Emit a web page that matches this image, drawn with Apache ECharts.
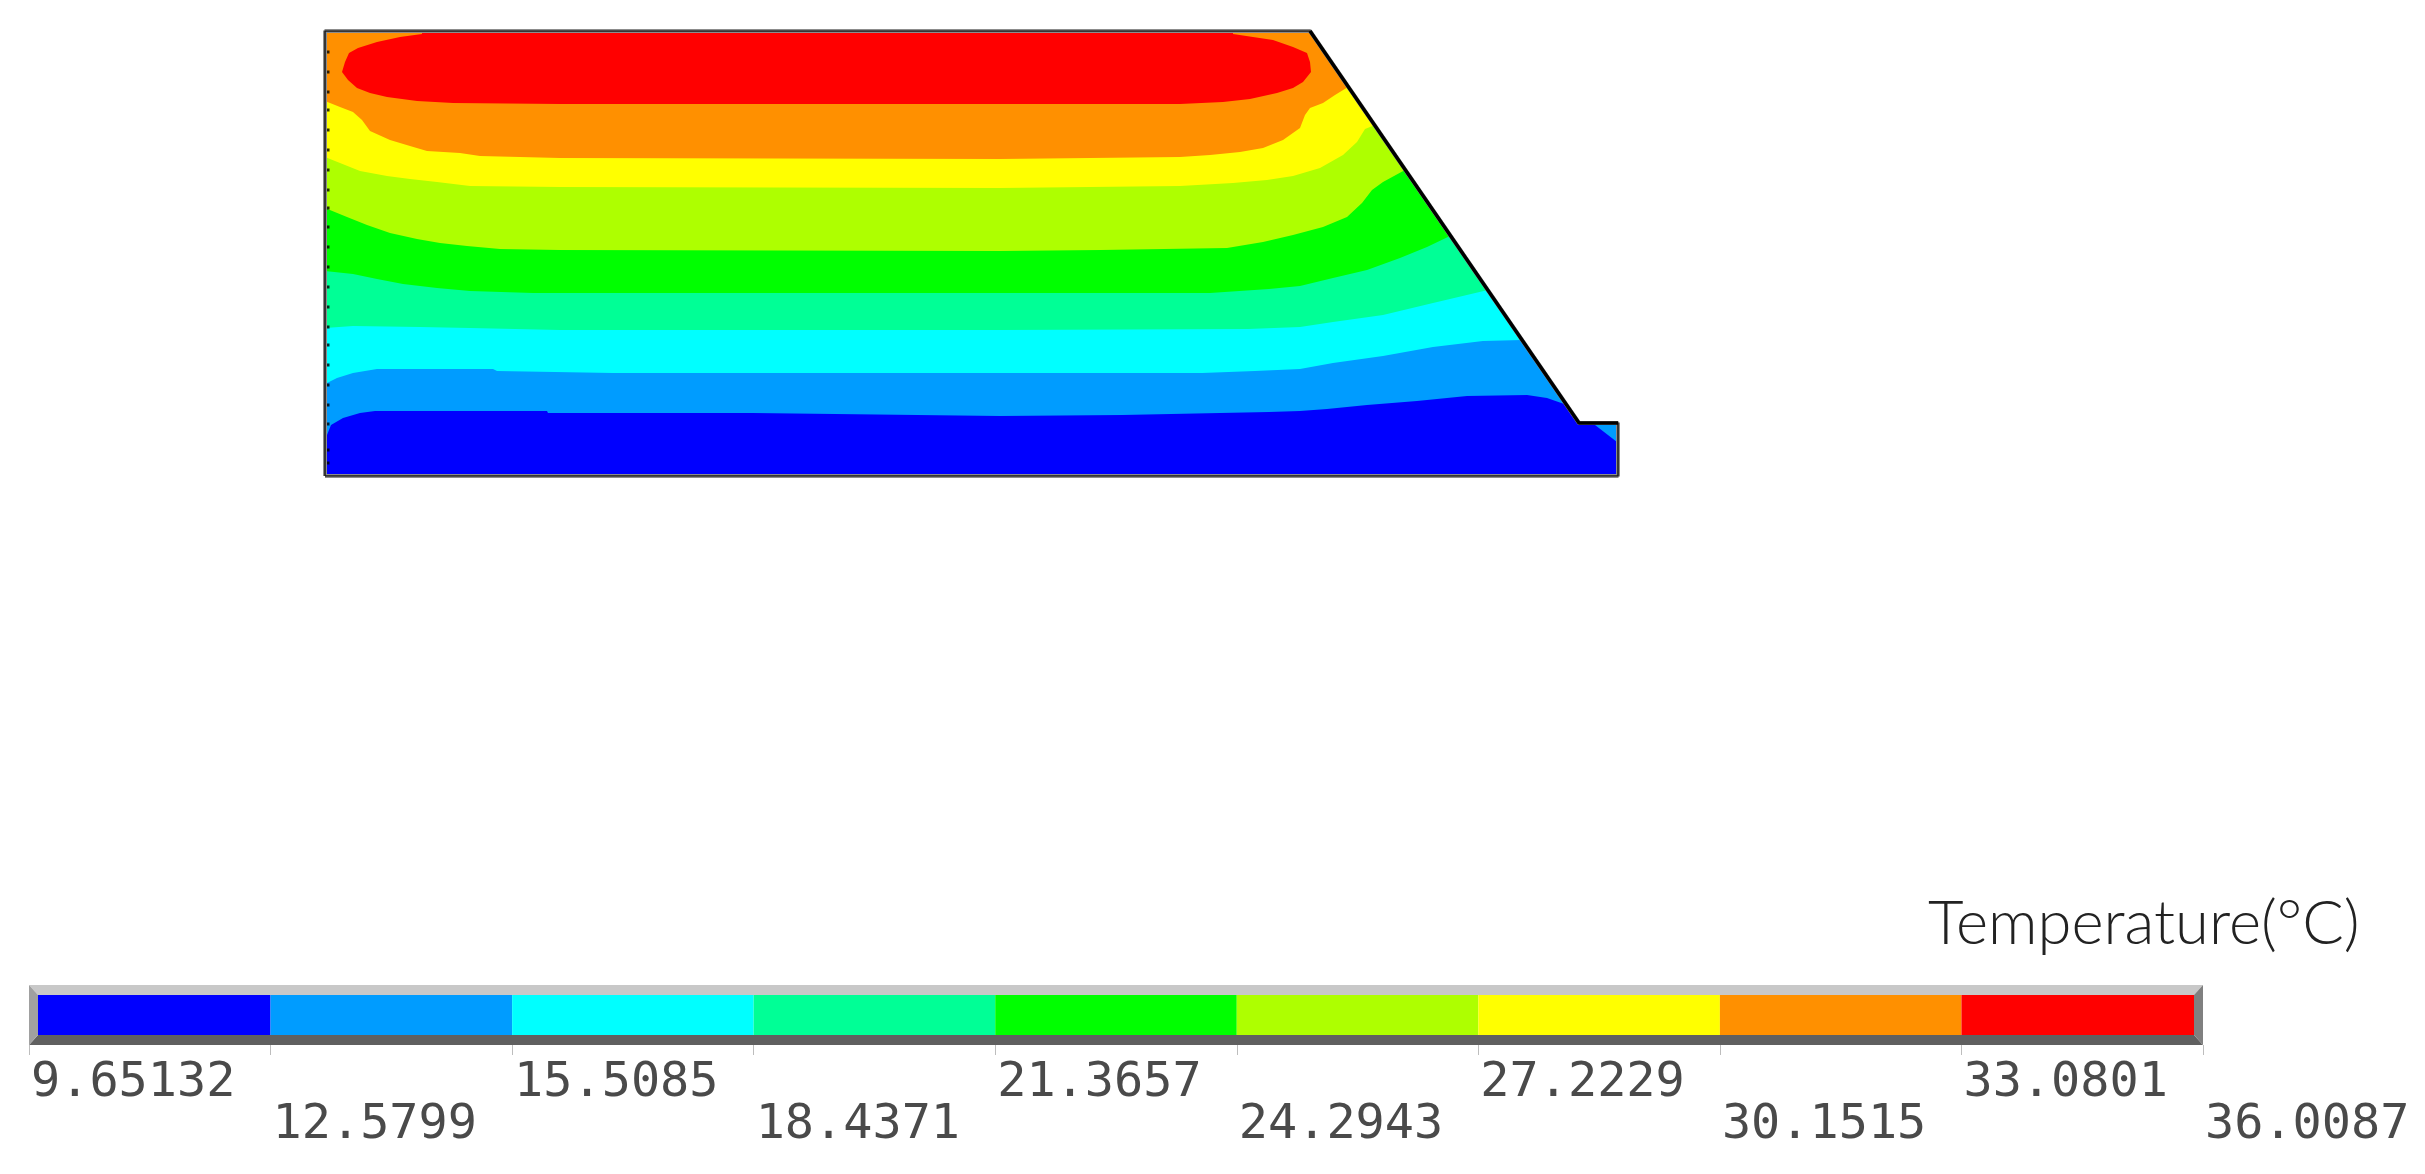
<!DOCTYPE html>
<html>
<head>
<meta charset="utf-8">
<title>Temperature contour</title>
<style>
  html, body { margin: 0; padding: 0; background: #fff; }
  #chart { width: 2425px; height: 1174px; }
</style>
<script src="https://cdn.jsdelivr.net/npm/echarts@6/dist/echarts.min.js"></script>
</head>
<body>
<div id="chart"></div>
<script>
// Section outline, model units (x from the left wall, y up from the base)
const outline = [[0, 0], [0, 445], [985, 445], [1254, 53], [1293, 53], [1293, 0], [0, 0]];
const slopeEdge = [[985, 445], [1254, 53], [1293, 53]];
const wallNodes = [424, 404, 384, 366, 346, 326, 306, 286, 268, 249, 229, 209, 189, 169, 149, 131, 111, 91, 71, 52, 26, 13];

// Isotherms, coolest to hottest, each running from the left wall to the slope
const iso12 = [[0, 36], [2, 41], [6, 51], [18, 58], [35, 63], [50, 65], [222, 65], [223, 63], [428, 63], [675, 60], [797, 61], [944, 64], [975, 65], [1002, 67], [1042, 71], [1092, 75], [1142, 80], [1202, 81], [1222, 78], [1242, 71]];
const iso15 = [[0, 92], [12, 98], [28, 103], [52, 107], [168, 107], [172, 105], [288, 103], [675, 103], [877, 103], [930, 105], [975, 107], [1008, 113], [1058, 120], [1108, 129], [1158, 135], [1197, 136]];
const iso18 = [[0, 148], [28, 150], [95, 149], [145, 148], [235, 146], [675, 146], [923, 147], [975, 149], [1008, 154], [1058, 161], [1108, 173], [1163, 186]];
const iso21 = [[0, 205], [28, 202], [52, 197], [78, 192], [112, 188], [145, 185], [208, 183], [675, 183], [885, 183], [944, 187], [975, 190], [1008, 198], [1042, 206], [1075, 218], [1102, 229], [1125, 240]];
const iso24 = [[0, 268], [22, 259], [42, 251], [65, 243], [92, 237], [115, 233], [142, 230], [175, 227], [235, 226], [675, 225], [776, 226], [902, 228], [938, 234], [968, 241], [998, 249], [1022, 259], [1037, 273], [1047, 286], [1058, 294], [1080, 306]];
const iso27 = [[0, 319], [15, 313], [35, 305], [62, 300], [85, 297], [112, 294], [145, 290], [235, 289], [675, 288], [855, 290], [908, 293], [942, 296], [968, 300], [995, 308], [1018, 321], [1032, 334], [1040, 347], [1050, 351]];
const iso30 = [[0, 375], [15, 369], [28, 364], [37, 356], [45, 345], [65, 336], [85, 330], [102, 325], [135, 323], [155, 320], [235, 318], [675, 317], [855, 319], [885, 321], [915, 324], [938, 328], [958, 336], [975, 348], [980, 361], [985, 368], [998, 373], [1010, 381], [1023, 389]];
const iso33 = [[97, 445], [97, 442], [75, 439], [52, 434], [33, 428], [24, 423], [20, 414], [17, 404], [23, 396], [32, 388], [45, 383], [62, 379], [92, 375], [128, 373], [235, 372], [675, 372], [855, 372], [898, 374], [925, 377], [952, 383], [968, 388], [978, 394], [986, 404], [985, 414], [982, 423], [968, 429], [948, 436], [928, 439], [908, 442], [908, 445]];
const nubCorner = [[1270, 51], [1292, 51], [1292, 34]];

const bandColors = ['#0000ff', '#009cff', '#00ffff', '#00ff96', '#00ff00', '#aeff00', '#ffff00', '#ff9000', '#ff0000'];
const legendTicks = [9.65132, 12.5799, 15.5085, 18.4371, 21.3657, 24.2943, 27.2229, 30.1515, 33.0801, 36.0087];
const legendTitle = 'Temperature(°C)';

// Painter's order: each region covers everything above its isotherm
const topCorners = [[985, 445], [0, 445]];
const regions = [
  { pts: outline, color: bandColors[0] },
  { pts: nubCorner, color: bandColors[1] },
  { pts: iso12.concat(topCorners), color: bandColors[1] },
  { pts: iso15.concat(topCorners), color: bandColors[2] },
  { pts: iso18.concat(topCorners), color: bandColors[3] },
  { pts: iso21.concat(topCorners), color: bandColors[4] },
  { pts: iso24.concat(topCorners), color: bandColors[5] },
  { pts: iso27.concat(topCorners), color: bandColors[6] },
  { pts: iso30.concat(topCorners), color: bandColors[7] },
  { pts: iso33, color: bandColors[8] },
];

const INSET_X = 9, INSET_Y = 10;

const chart = echarts.init(document.getElementById('chart'), null, { renderer: 'canvas' });

chart.setOption({
  animation: false,
  backgroundColor: '#ffffff',
  title: {
    text: legendTitle, left: 1923, top: 888,
    textStyle: { fontFamily: 'Lato', fontWeight: 300, fontSize: 61.5, color: '#222222' },
  },
  grid: [
    { left: 325, top: 31, width: 1293, height: 445 },
    { left: 29, top: 985, width: 2174, height: 60 },
  ],
  xAxis: [
    { gridIndex: 0, type: 'value', min: 0, max: 1293, show: false },
    {
      gridIndex: 1, type: 'value', min: legendTicks[0], max: legendTicks[legendTicks.length - 1],
      axisLine: { show: false },
      splitLine: { show: false },
      axisTick: { show: true, length: 10, lineStyle: { color: '#bdbdbd', width: 1 }, customValues: legendTicks },
      axisLabel: {
        show: true, customValues: legendTicks, align: 'left', verticalAlign: 'top', margin: 17,
        hideOverlap: false, showMinLabel: true, showMaxLabel: true, padding: [0, 0, 0, 2],
        fontFamily: 'DejaVu Sans Mono', fontSize: 48.5, lineHeight: 42, color: '#4a4a4a',
        // labels alternate between two rows
        formatter: (val) => {
          const i = legendTicks.indexOf(val);
          return (i % 2 ? '\n' : '') + val;
        },
      },
    },
  ],
  yAxis: [
    { gridIndex: 0, type: 'value', min: 0, max: 445, show: false },
    { gridIndex: 1, type: 'value', min: 0, max: 1, show: false },
  ],
  series: [
    {
      name: 'regions', type: 'custom', xAxisIndex: 0, yAxisIndex: 0, silent: true, clip: false,
      data: regions.map((r, i) => [i, 0]),
      renderItem: (params, api) => ({
        type: 'polygon',
        shape: { points: regions[params.dataIndex].pts.map((p) => api.coord(p)) },
        style: { fill: regions[params.dataIndex].color },
      }),
    },
    {
      name: 'outlineHalo', type: 'line', xAxisIndex: 0, yAxisIndex: 0, silent: true, showSymbol: false,
      data: outline, lineStyle: { color: '#8c8c8c', width: 4 },
    },
    {
      name: 'outline', type: 'line', xAxisIndex: 0, yAxisIndex: 0, silent: true, showSymbol: false,
      data: outline, lineStyle: { color: '#1a1a1a', width: 1.5 },
    },
    {
      name: 'slope', type: 'line', xAxisIndex: 0, yAxisIndex: 0, silent: true, showSymbol: false,
      data: slopeEdge, lineStyle: { color: '#000000', width: 3.5 },
    },
    {
      name: 'nodes', type: 'scatter', xAxisIndex: 0, yAxisIndex: 0, silent: true,
      data: wallNodes.map((y) => [2, y]), symbol: 'rect', symbolSize: [5, 3],
      itemStyle: { color: '#000000' },
    },
    {
      // bevelled frame of the colour bar
      name: 'bevel', type: 'custom', xAxisIndex: 1, yAxisIndex: 1, silent: true, clip: false,
      data: [[legendTicks[0], 0]],
      renderItem: (params) => {
        const c = params.coordSys;
        const l = c.x, t = c.y, r = c.x + c.width, b = c.y + c.height;
        const face = (pts, fill) => ({ type: 'polygon', shape: { points: pts }, style: { fill } });
        return {
          type: 'group',
          children: [
            face([[l, t], [r, t], [r - INSET_X, t + INSET_Y], [l + INSET_X, t + INSET_Y]], '#c8c8c8'),
            face([[l, b], [r, b], [r - INSET_X, b - INSET_Y], [l + INSET_X, b - INSET_Y]], '#606060'),
            face([[l, t], [l + INSET_X, t + INSET_Y], [l + INSET_X, b - INSET_Y], [l, b]], '#a0a0a0'),
            face([[r, t], [r - INSET_X, t + INSET_Y], [r - INSET_X, b - INSET_Y], [r, b]], '#808080'),
          ],
        };
      },
    },
    {
      name: 'legendBands', type: 'custom', xAxisIndex: 1, yAxisIndex: 1, silent: true, clip: false,
      data: bandColors.map((c, i) => [legendTicks[i], legendTicks[i + 1]]),
      renderItem: (params, api) => {
        const c = params.coordSys;
        const x0 = Math.max(api.coord([api.value(0), 0])[0], c.x + INSET_X);
        const x1 = Math.min(api.coord([api.value(1), 0])[0], c.x + c.width - INSET_X);
        return {
          type: 'rect',
          shape: { x: x0, y: c.y + INSET_Y, width: x1 - x0, height: c.height - 2 * INSET_Y },
          style: { fill: bandColors[params.dataIndex] },
        };
      },
    },
  ],
});
</script>
</body>
</html>
